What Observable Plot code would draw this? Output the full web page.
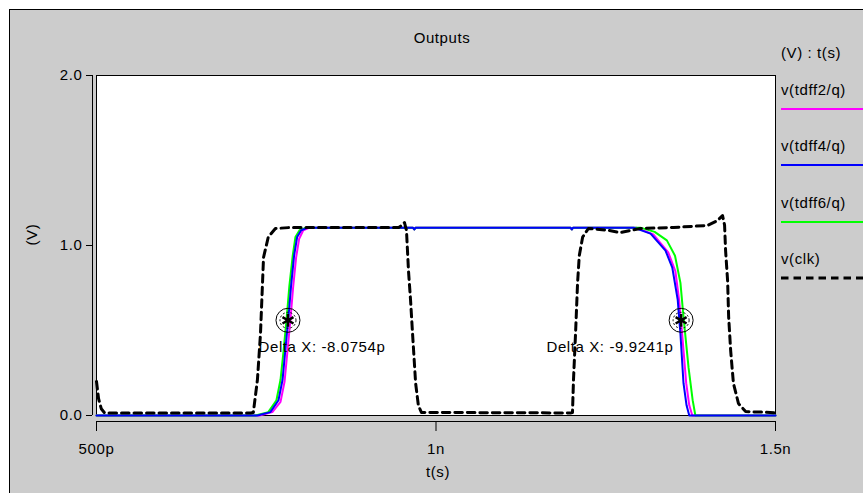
<!DOCTYPE html>
<html><head><meta charset="utf-8">
<script src="https://cdn.jsdelivr.net/npm/d3@7"></script>
<script src="https://cdn.jsdelivr.net/npm/@observablehq/plot@0.6"></script>
<style>
html,body{margin:0;padding:0;background:#fff;}
#wrap{position:relative;width:863px;height:493px;overflow:hidden;}
#panel{position:absolute;left:9px;top:9px;width:900px;height:520px;background:#cccccc;border-left:1px solid #000;border-top:1px solid #000;}
#chart{position:absolute;left:0;top:0;}
#legend{position:absolute;left:0;top:0;}
.lgt{position:absolute;left:781px;height:18px;line-height:18px;font:15px "Liberation Sans",Arial,sans-serif;letter-spacing:0.6px;color:#000;white-space:nowrap;}
.lgs{position:absolute;left:781px;width:90px;height:6px;}
</style></head><body>
<div id="wrap"><div id="panel"></div><div id="chart"></div><div id="legend"></div></div>
<script>
// ---- chart data (time in ps, voltage in V) ----
const chartTitle = "Outputs";
const xLabel = "t(s)";
const yLabel = "(V)";
const legendHeader = "(V) : t(s)";
const xTicks = [500, 1000, 1500];
const xTickLabels = ["500p", "1n", "1.5n"];
const yTicks = [0, 1, 2];
const yTickLabels = ["0.0", "1.0", "2.0"];
const xDomain = [500, 1500];
const yDomain = [0, 2];

const seriesNames = ["v(tdff2/q)", "v(tdff4/q)", "v(tdff6/q)", "v(clk)"];
const seriesColors = ["#ff00ff", "#0000ff", "#00ff00", "#000000"];

const tdff2T = [500, 740, 759, 771, 777, 781, 785.5, 789.5, 794, 798.5, 804.5, 814, 966, 968, 970, 1198, 1200, 1202, 1295, 1320, 1342, 1352.5, 1358, 1362.5, 1368.5, 1373, 1377.5, 1500];
const tdff2V = [0, 0, 0.02, 0.08, 0.2, 0.37, 0.56, 0.75, 0.93, 1.04, 1.09, 1.105, 1.105, 1.094, 1.105, 1.105, 1.095, 1.105, 1.105, 1.065, 0.96, 0.85, 0.68, 0.48, 0.19, 0.06, 0, 0];

const tdff4T = [500, 737, 756, 768, 774, 778, 782.5, 786.5, 791, 795.5, 801.5, 811, 966, 968, 970, 1198, 1200, 1202, 1291, 1316, 1338, 1348, 1356, 1360, 1364.5, 1369, 1373, 1500];
const tdff4V = [0, 0, 0.02, 0.09, 0.21, 0.38, 0.57, 0.76, 0.94, 1.05, 1.09, 1.105, 1.105, 1.094, 1.105, 1.105, 1.095, 1.105, 1.105, 1.07, 0.97, 0.87, 0.68, 0.48, 0.19, 0.06, 0, 0];

const tdff6T = [500, 734, 753, 765, 771, 775.5, 780, 784, 789, 793, 799, 809, 966, 968, 970, 1198, 1200, 1202, 1301, 1322, 1340, 1352, 1360, 1364.5, 1372, 1378, 1382, 1500];
const tdff6V = [0, 0, 0.02, 0.09, 0.21, 0.38, 0.57, 0.76, 0.94, 1.05, 1.09, 1.105, 1.105, 1.094, 1.105, 1.105, 1.095, 1.105, 1.105, 1.08, 1.03, 0.94, 0.78, 0.58, 0.28, 0.09, 0, 0];

const clkT = [500, 503, 507, 512, 727, 731, 737, 741.5, 744.5, 746, 753, 763.5, 786, 945, 950, 953.6, 956.5, 958, 959.5, 962.5, 965.5, 970, 974, 978.5, 1198, 1201, 1202.5, 1205.5, 1208.5, 1211, 1216, 1224.5, 1252.5, 1271.5, 1301, 1350, 1400, 1414.5, 1422, 1425, 1426.5, 1429.5, 1431, 1434, 1438, 1445.5, 1456, 1470, 1482, 1500];
const clkV = [0.2, 0.1, 0.04, 0.015, 0.015, 0.018, 0.21, 0.48, 0.78, 0.93, 1.05, 1.1, 1.106, 1.106, 1.12, 1.135, 1.09, 0.97, 0.85, 0.68, 0.48, 0.19, 0.06, 0.018, 0.015, 0.018, 0.21, 0.48, 0.78, 0.94, 1.05, 1.1, 1.09, 1.076, 1.1, 1.106, 1.118, 1.147, 1.176, 1.12, 0.97, 0.79, 0.58, 0.38, 0.19, 0.07, 0.024, 0.02, 0.02, 0.015];

const markerT = [782, 1361];
const markerV = [0.56, 0.56];
const annotT = [738.6, 1162.7];
const annotV = [0.4, 0.4];
const annotText = ["Delta X: -8.0754p", "Delta X: -9.9241p"];

// ---- build tables ----
const toRows = (T, V) => T.map((t, i) => ({t, v: V[i]}));
const seriesT = [tdff2T, tdff4T, tdff6T, clkT];
const seriesV = [tdff2V, tdff4V, tdff6V, clkV];
const rows = seriesT.map((T, i) => toRows(T, seriesV[i]));
const markers = markerT.map((t, i) => ({t, v: markerV[i]}));
const annots = annotT.map((t, i) => ({t, v: annotV[i], label: annotText[i]}));

const FONT = '"Liberation Sans", Arial, sans-serif';
const lineStyle = i => i === 3
  ? {strokeWidth: 3, strokeDasharray: "7.5,5"}
  : {strokeWidth: 2};
const drawOrder = [0, 2, 1, 3];

const chart = Plot.plot({
  width: 863, height: 493,
  marginLeft: 96, marginRight: 88, marginTop: 75, marginBottom: 78,
  style: {background: "transparent", fontFamily: FONT, fontSize: "15px", color: "#000", letterSpacing: "0.6px"},
  x: {domain: xDomain},
  y: {domain: yDomain},
  marks: [
    Plot.frame({fill: "white", stroke: "black"}),
    Plot.ruleX([xDomain[0]], {y1: yDomain[0], y2: yDomain[1], dx: -4, stroke: "black"}),
    Plot.ruleY([yDomain[0]], {x1: xDomain[0], x2: xDomain[1], dy: 6, stroke: "black"}),
    Plot.axisX({ticks: xTicks, tickFormat: d => xTickLabels[xTicks.indexOf(d)], tickSize: 10, dy: 6, tickPadding: 12, label: null, stroke: "black"}),
    Plot.axisY({ticks: yTicks, tickFormat: d => yTickLabels[yTicks.indexOf(d)], tickSize: 6, dx: -4, tickPadding: 4, label: null, stroke: "black"}),
    ...drawOrder.map(i => Plot.line(rows[i], {x: "t", y: "v", stroke: seriesColors[i], ...lineStyle(i)})),
    Plot.dot(markers, {x: "t", y: "v", r: 12, stroke: "black", strokeWidth: 1, fill: "none"}),
    Plot.dot(markers, {x: "t", y: "v", r: 8, stroke: "black", strokeWidth: 1, strokeDasharray: "2,2", fill: "none"}),
    Plot.dot(markers, {x: "t", y: "v", r: 6, symbol: "asterisk", stroke: "black", strokeWidth: 2.5}),
    Plot.text(annots, {x: "t", y: "v", text: "label", textAnchor: "start", fill: "black"}),
    Plot.text([chartTitle], {frameAnchor: "top", dy: -43, dx: 6, fill: "black"}),
    Plot.text([xLabel], {frameAnchor: "bottom", dy: 61, dx: 2, fill: "black"}),
    Plot.text([yLabel], {frameAnchor: "left", dx: -64, rotate: -90, fill: "black"})
  ]
});
document.getElementById("chart").appendChild(chart);

// ---- legend ----
const lg = document.getElementById("legend");
const addText = (txt, cy) => {
  const d = document.createElement("div");
  d.className = "lgt"; d.textContent = txt; d.style.top = (cy - 9) + "px";
  lg.appendChild(d);
};
addText(legendHeader, 53);
seriesNames.forEach((n, i) => {
  const ly = 109 + i * 56.3;
  addText(n, ly - 19);
  const s = document.createElementNS("http://www.w3.org/2000/svg", "svg");
  s.setAttribute("class", "lgs");
  s.style.top = (ly - 3) + "px";
  s.setAttribute("width", 90); s.setAttribute("height", 6);
  const st = lineStyle(i);
  s.innerHTML = `<line x1="0" x2="90" y1="3" y2="3" stroke="${seriesColors[i]}" stroke-width="${st.strokeWidth}" ${st.strokeDasharray ? `stroke-dasharray="${st.strokeDasharray}"` : ""}/>`;
  lg.appendChild(s);
});
</script>
</body></html>
